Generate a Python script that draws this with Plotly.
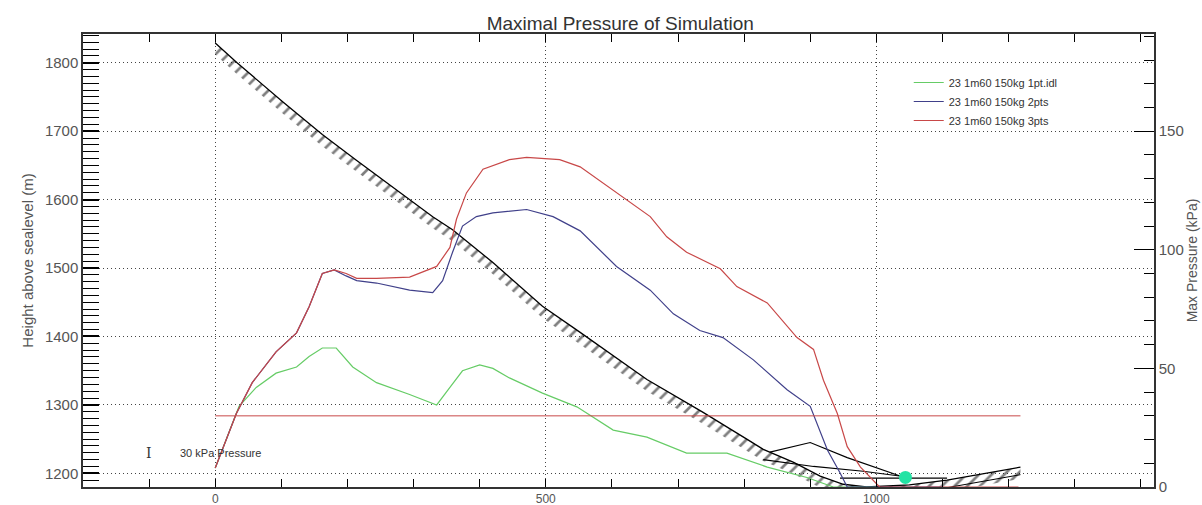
import plotly.graph_objects as go

# ---------------- data ----------------
# Max pressure curves (kPa, right axis) vs horizontal distance
x_1pt = [0, 36, 62, 92, 123, 142, 162, 183, 208, 244, 294, 335, 355, 374, 400, 420, 445, 495, 547,
         602, 653, 713, 774, 835, 895, 935, 1000]
p_1pt = [8, 34, 42, 48, 50.6, 55, 58.6, 58.6, 50.6, 44, 39, 34.6, 42, 49, 51.5, 50, 46, 39.6, 33.8,
         24, 21, 14.3, 14.3, 8.4, 4, 0, 0]

x_2pts = [0, 32, 56, 92, 123, 142, 162, 180, 198, 214, 244, 294, 329, 344, 359, 374, 395, 420, 471,
          511, 552, 607, 658, 693, 733, 768, 814, 844, 865, 900, 910, 926, 945, 956, 1100]
p_2pts = [8, 31, 44, 57, 65, 76, 90, 91.5, 89, 87, 86, 83, 82, 87, 99, 110, 114, 115.6, 117,
          114, 108, 93, 83, 73, 66, 63, 53.6, 46, 41, 34, 27, 15.6, 6, 0, 0]

x_3pts = [0, 32, 56, 92, 123, 142, 162, 180, 198, 214, 244, 294, 335, 355, 365, 380, 405, 445, 471,
          521, 552, 617, 658, 683, 713, 764, 789, 835, 880, 905, 920, 941, 956, 976, 991, 1005, 1215]
p_3pts = [8, 31, 44, 57, 65, 76, 90, 91.5, 90, 88, 88, 88.5, 93, 101, 113, 124, 134, 138, 139,
          138, 135, 122, 114, 105.5, 99, 92, 84.5, 77.6, 63, 58, 45, 31, 17, 8.4, 4, 0, 0]

series_names = ["23 1m60 150kg 1pt.idl", "23 1m60 150kg 2pts", "23 1m60 150kg 3pts"]

# 30 kPa threshold line
thr_x = [0, 1218]
thr_p = [30, 30]

# Terrain profile (height above sealevel, m, left axis)
terrain_x = [0, 33, 102, 162, 213, 264, 329, 359, 420, 495, 552, 653, 738, 804, 829, 875, 915,
             950, 985, 1050, 1107, 1218]
terrain_z = [1829, 1800, 1743, 1695, 1658, 1622, 1575, 1556, 1508, 1444, 1406, 1337, 1289, 1250,
             1235, 1216, 1196, 1184, 1180, 1183, 1190, 1209]
hatch_depth = 17  # m

# deposit outlines near the run-out
dep1_x = [839, 900, 956, 1006, 1036]
dep1_z = [1231, 1245, 1223, 1206, 1196]
dep2_x = [829, 905, 980, 1010, 1044]
dep2_z = [1220, 1210, 1203, 1199, 1195]
dep3_x = [945, 1044, 1107]
dep3_z = [1193, 1193, 1193]

# end point marker
end_x = [1044]
end_z = [1194]

title_txt = "Maximal Pressure of Simulation"
ylab = "Height above sealevel (m)"
y2lab = "Max Pressure (kPa)"

FONT = "Liberation Sans"
GRID = dict(showgrid=True, gridcolor="#444", griddash="1px,3px", gridwidth=1)
fig = go.Figure()

# hatch band under terrain
band_x = terrain_x + terrain_x[::-1]
band_z = terrain_z + [z - hatch_depth for z in terrain_z[::-1]]
fig.add_trace(go.Scatter(x=band_x, y=band_z, fill="toself", mode="lines",
                         line=dict(width=0, color="rgba(0,0,0,0)"),
                         fillcolor="rgba(0,0,0,0)",
                         fillpattern=dict(shape="/", fgcolor="black", bgcolor="rgba(0,0,0,0)",
                                          size=9, solidity=0.3, fillmode="overlay"),
                         showlegend=False, hoverinfo="skip", yaxis="y"))
fig.add_trace(go.Scatter(x=terrain_x, y=terrain_z, mode="lines",
                         line=dict(color="black", width=1.3), showlegend=False, yaxis="y"))
fig.add_trace(go.Scatter(x=[x for x in terrain_x if x >= 950],
                         y=[terrain_z[i] - hatch_depth + 6 for i, x in enumerate(terrain_x) if x >= 950],
                         mode="lines", line=dict(color="black", width=1), showlegend=False, yaxis="y"))
for dx, dz in [(dep1_x, dep1_z), (dep2_x, dep2_z), (dep3_x, dep3_z)]:
    fig.add_trace(go.Scatter(x=dx, y=dz, mode="lines", line=dict(color="black", width=1.2),
                             showlegend=False, yaxis="y"))
fig.add_trace(go.Scatter(x=end_x, y=end_z, mode="markers",
                         marker=dict(color="#22e3a4", size=13), showlegend=False, yaxis="y"))

# pressure curves
fig.add_trace(go.Scatter(x=x_1pt, y=p_1pt, mode="lines", name=series_names[0],
                         line=dict(color="#66cc66", width=1.2), yaxis="y2"))
fig.add_trace(go.Scatter(x=x_2pts, y=p_2pts, mode="lines", name=series_names[1],
                         line=dict(color="#40408a", width=1.2), yaxis="y2"))
fig.add_trace(go.Scatter(x=x_3pts, y=p_3pts, mode="lines", name=series_names[2],
                         line=dict(color="#c84848", width=1.2), yaxis="y2"))
fig.add_trace(go.Scatter(x=thr_x, y=thr_p, mode="lines", line=dict(color="#c84848", width=1),
                         showlegend=False, yaxis="y2"))

fig.update_layout(
    width=1202, height=505,
    margin=dict(l=83, r=48, t=34, b=18, autoexpand=False),
    paper_bgcolor="white", plot_bgcolor="white",
    font=dict(family=FONT, color="#444", size=15),
    title=dict(text=title_txt, x=0.516, xanchor="center", y=0.953, yanchor="middle",
               font=dict(size=19, color="#333", family=FONT)),
    showlegend=True,
    legend=dict(x=0.771, y=0.925, xanchor="left", yanchor="top", bgcolor="rgba(0,0,0,0)",
                font=dict(size=11, color="#333", family=FONT), tracegroupgap=0, itemwidth=30),
    xaxis=dict(range=[-200, 1420], tickvals=[0, 500, 1000], ticks="inside", ticklen=8,
               tickcolor="black", showline=True, linecolor="#333", linewidth=1.5, mirror="ticks",
               zeroline=False, **GRID,
               minor=dict(dtick=100, tick0=0, ticks="inside", ticklen=8, tickcolor="black",
                          showgrid=False),
               tickfont=dict(size=12, color="#555"), automargin=False),
    yaxis=dict(range=[1180, 1842], tick0=1200, dtick=100, ticks="inside", ticklen=16,
               tickcolor="black", tickwidth=1.5, showline=True, linecolor="#333", linewidth=1.5,
               zeroline=False, **GRID,
               minor=dict(dtick=10, tick0=1200, ticks="inside", ticklen=16, tickcolor="black",
                          tickwidth=1.2, showgrid=False),
               tickfont=dict(size=15, color="#555"), automargin=False,
               title=dict(text=ylab, font=dict(size=15, color="#555"), standoff=8)),
    yaxis2=dict(range=[0, 191], overlaying="y", side="right", tickvals=[0, 50, 100, 150],
                ticks="inside", ticklen=20, tickcolor="black", showline=True, linecolor="#333",
                linewidth=1.5, showgrid=False, zeroline=False,
                minor=dict(dtick=10, tick0=0, ticks="inside", ticklen=10, tickcolor="black",
                           showgrid=False),
                tickfont=dict(size=15, color="#555"), automargin=False,
                title=dict(text=y2lab, font=dict(size=14, color="#555"), standoff=2)),
    annotations=[
        dict(x=-100, y=1229, xref="x", yref="y", text="I", showarrow=False,
             font=dict(size=14, color="#333", family="DejaVu Serif")),
        dict(x=-57, y=1229, xref="x", yref="y", text="30 kPa Pressure", showarrow=False,
             xanchor="left", font=dict(size=11, color="#333", family=FONT)),
    ],
)

fig.write_html("out.html")
